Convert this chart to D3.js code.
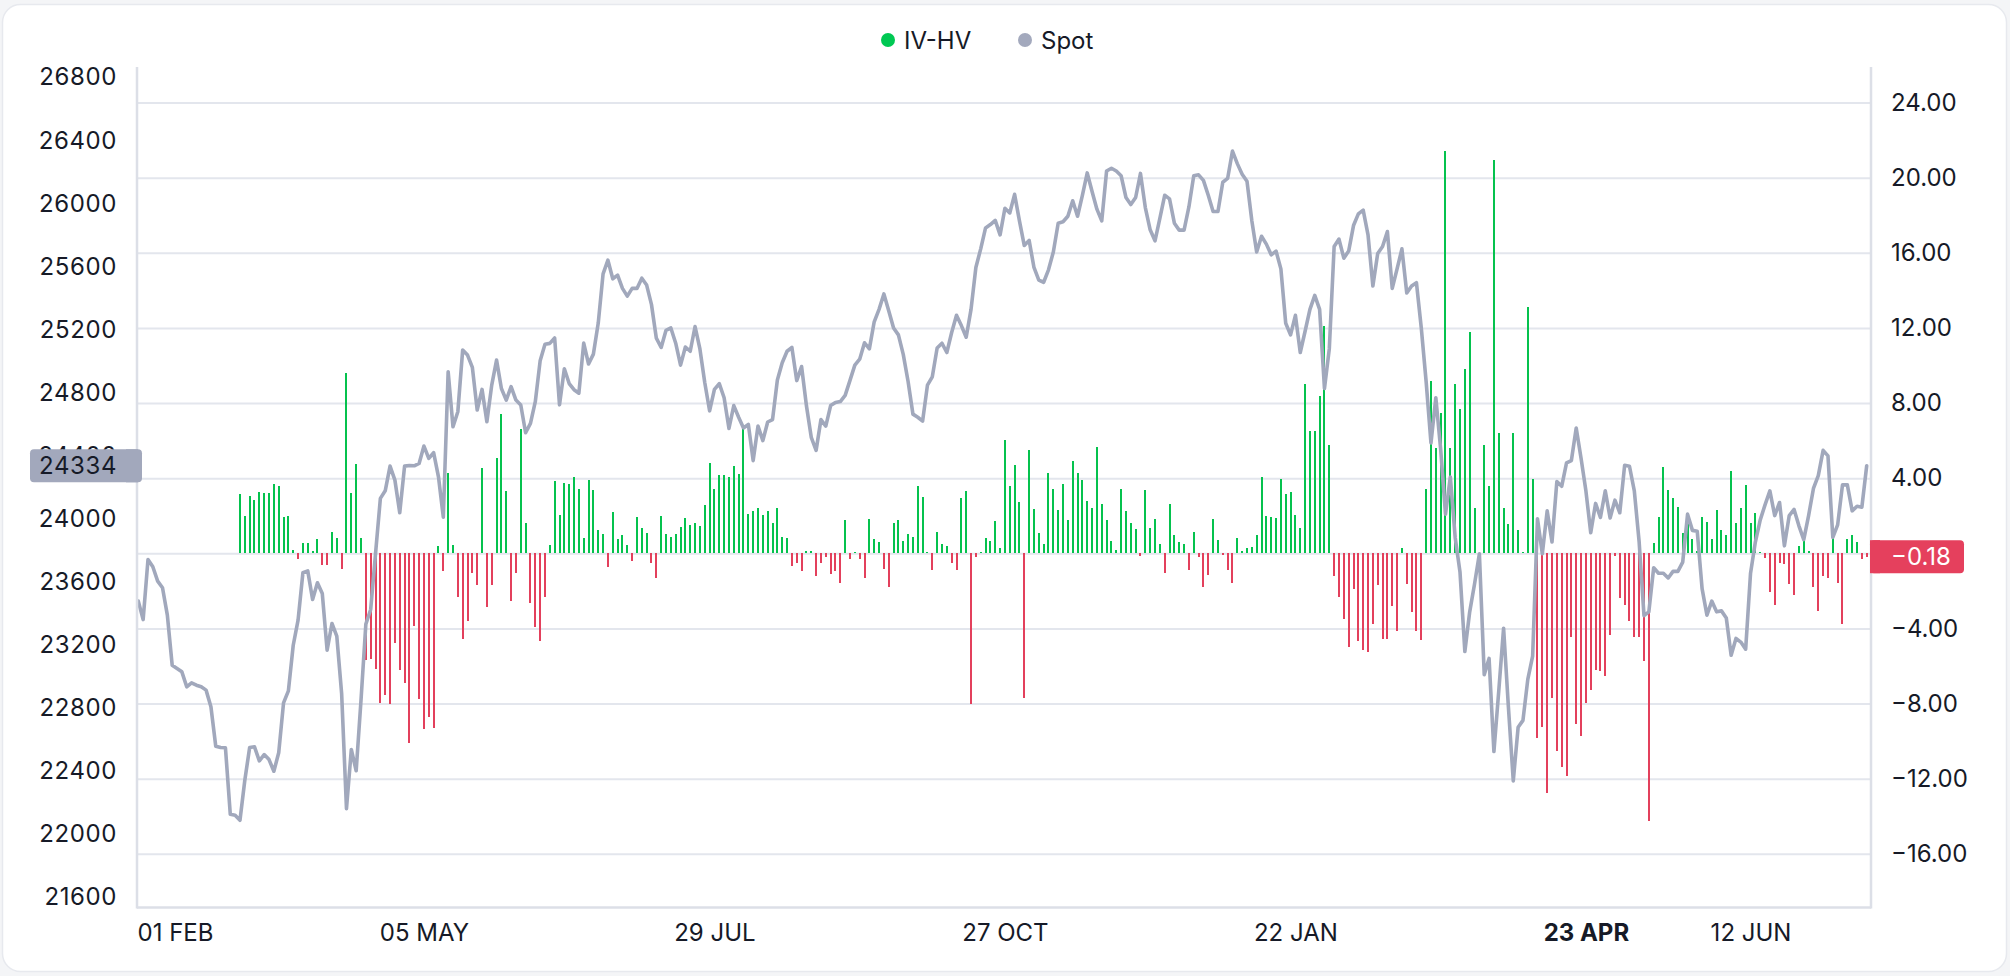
<!DOCTYPE html>
<html><head><meta charset="utf-8">
<script src="https://cdn.jsdelivr.net/npm/d3@7"></script>
<style>
html,body{margin:0;padding:0;background:#f4f5f7;overflow:hidden;}
svg{display:block;}
text{font-family:Inter,"Noto Sans",sans-serif;}
</style></head><body>
<svg id="chart" width="2010" height="976"></svg>
<script>
// ---- data ----
const seriesNames = ["IV-HV", "Spot"];
const tickIdx = [0, 59, 119, 179, 239, 299, 333];
const tickLabels = ["01 FEB", "05 MAY", "29 JUL", "27 OCT", "22 JAN", "23 APR", "12 JUN"];
const boldTicks = ["23 APR"];
const leftTicks = [21600, 22000, 22400, 22800, 23200, 23600, 24000, 24400, 24800, 25200, 25600, 26000, 26400, 26800];
const rightTicks = [-16, -12, -8, -4, 0, 4, 8, 12, 16, 20, 24];

const spot = [
23475,23358,23739,23693,23602,23560,23386,23068,23047,23026,
22931,22956,22941,22931,22910,22804,22554,22546,22544,22122,
22116,22084,22338,22546,22550,22461,22501,22469,22395,22512,
22829,22905,23195,23354,23655,23667,23485,23591,23524,23164,
23333,23253,22888,22158,22533,22398,22846,23329,23422,23777,
24127,24175,24332,24243,24036,24332,24336,24334,24349,24459,
24381,24417,24264,24008,24931,24582,24677,25069,25037,24959,
24688,24819,24614,24846,25005,24825,24751,24836,24751,24720,
24544,24603,24741,25000,25105,25111,25145,24721,24950,24856,
24817,24795,25113,24980,25043,25240,25552,25639,25521,25544,
25460,25411,25460,25460,25525,25481,25357,25144,25085,25194,
25209,25112,24973,25088,25061,25218,25076,24863,24683,24819,
24855,24766,24571,24716,24642,24574,24597,24367,24586,24494,
24612,24627,24878,24988,25061,25085,24875,24964,24716,24515,
24432,24627,24586,24716,24736,24742,24781,24876,24973,25011,
25115,25076,25248,25327,25425,25318,25209,25165,25041,24869,
24662,24642,24618,24846,24899,25082,25112,25053,25180,25289,
25224,25150,25327,25593,25711,25844,25865,25892,25800,25969,
25939,26057,25889,25732,25765,25593,25513,25499,25578,25691,
25874,25883,25918,26016,25918,26051,26193,26075,25963,25889,
26205,26223,26205,26175,26037,25992,26037,26190,25973,25832,
25762,25904,26051,26028,25874,25830,25830,25977,26175,26181,
26146,26051,25948,25948,26134,26158,26332,26252,26184,26140,
25889,25691,25791,25741,25673,25697,25584,25239,25165,25289,
25053,25188,25327,25416,25327,24825,25076,25726,25773,25652,
25697,25859,25933,25957,25800,25475,25682,25726,25821,25460,
25584,25711,25431,25475,25496,25209,24869,24479,24766,24440,
24027,24263,23879,23658,23155,23407,23584,23776,23008,23111,
22520,22904,23303,22801,22334,22674,22718,22978,23126,23998,
23776,24048,23850,24234,24204,24352,24367,24574,24382,24175,
23909,24095,24006,24175,24003,24116,24036,24337,24331,24175,
23850,23383,23407,23687,23652,23652,23622,23664,23664,23723,
24027,23924,23918,23554,23386,23475,23407,23413,23368,23132,
23238,23215,23170,23650,23850,23989,24086,24175,24018,24101,
23826,24018,24057,23953,23865,24018,24190,24272,24432,24397,
23879,23959,24213,24213,24048,24077,24071,24334
];

const ivhv = [
null,null,null,null,null,null,null,null,null,null,
null,null,null,null,null,null,null,null,null,null,
null,3.16,1.99,3.05,2.84,3.27,3.19,3.19,3.69,3.59,
1.92,1.99,0.18,-0.32,0.53,0.53,0.11,0.75,-0.60,-0.60,
1.14,0.82,-0.82,9.58,3.19,4.76,0.80,-5.68,-5.61,-6.18,
-7.99,-7.56,-8.04,-4.76,-6.21,-6.89,-10.08,-3.85,-7.77,-9.37,
-8.73,-9.32,0.39,-0.96,4.26,0.44,-2.31,-4.54,-3.62,-1.03,
-1.70,4.53,-2.84,-1.70,5.06,7.42,3.30,-2.52,-1.06,6.60,
1.60,-2.63,-3.90,-4.69,-2.34,0.45,3.85,2.04,3.74,3.68,
4.06,3.43,0.81,3.90,3.37,1.25,1.02,-0.71,2.19,0.75,
0.97,0.45,-0.39,1.94,1.35,1.07,-0.54,-1.31,1.98,1.02,
0.87,1.02,1.39,1.89,1.52,1.61,1.44,2.58,4.81,3.43,
4.17,4.17,4.07,4.64,4.22,6.62,2.09,2.26,2.41,2.04,
2.26,1.61,2.41,0.85,0.82,-0.66,-0.49,-0.96,0.13,0.13,
-1.23,-0.54,-0.19,-1.08,-0.96,-1.56,1.77,-0.30,0.08,-0.32,
-1.34,1.82,0.75,0.60,-0.86,-1.78,1.61,1.77,0.65,1.02,
0.87,3.57,3.00,0.08,-0.91,1.15,0.50,0.38,-0.54,-0.91,
2.95,3.33,-8.00,-0.22,0.05,0.82,0.65,1.71,0.28,6.03,
3.57,4.69,2.73,-7.73,5.48,2.36,1.10,0.48,4.27,3.43,
2.31,3.70,1.77,4.91,4.27,3.90,2.78,2.41,5.68,2.63,
1.77,0.65,0.18,3.43,2.26,1.61,1.30,-0.12,3.38,1.35,
1.82,0.50,-1.04,2.63,0.97,0.60,0.50,-0.91,1.15,-0.22,
-1.78,-1.14,1.82,0.70,-0.10,-0.91,-1.56,0.82,0.13,0.28,
0.33,0.97,4.07,1.98,1.94,1.89,3.95,3.16,3.25,2.04,
1.35,9.00,6.50,6.50,8.38,12.12,5.75,-1.21,-2.30,-3.49,
-5.00,-1.88,-4.68,-5.15,-5.25,-3.76,-1.68,-4.58,-4.58,-2.82,
-4.13,0.28,-1.63,-3.14,-4.13,-4.63,3.43,9.15,5.63,7.49,
21.40,5.63,9.00,7.68,9.81,11.77,2.41,0.03,5.75,3.57,
20.94,6.40,2.41,1.57,6.40,1.22,0.08,13.11,3.95,-9.81,
-9.26,-12.78,-7.70,-10.55,-11.37,-11.86,-4.48,-9.09,-9.71,-7.95,
-7.26,-6.21,-6.29,-6.51,-4.33,-0.15,-2.40,-2.77,-3.59,-4.43,
-4.48,-5.72,-14.27,0.55,1.94,4.59,3.38,2.95,2.46,1.09,
1.70,0.77,0.10,1.94,1.67,0.77,2.31,1.25,1.00,4.39,
1.62,2.41,3.63,1.62,2.16,0.08,-0.27,-2.08,-2.77,-0.54,
-0.59,-1.63,-2.20,0.38,0.65,0.13,-1.78,-3.05,-1.21,-1.33,
0.80,-1.56,-3.79,0.75,0.97,0.60,-0.32,-0.18
];

// ---- styles ----
const GREEN = "#05c24e", RED = "#e3405c", LINE = "#a1a8bc", GRID = "#e3e6ed", AXISC = "#dcdfe7", TXT = "#161a27";
const FS = 24;

const svg = d3.select("#chart");
svg.append("rect").attr("x", 2.5).attr("y", 4.5).attr("width", 2004).attr("height", 967)
  .attr("rx", 18).attr("fill", "#fff").attr("stroke", "#e7e9ee").attr("stroke-width", 1.5);

const plotL = 137, plotR = 1871, plotT = 67, plotB = 907.5;
const x = d3.scaleLinear().domain([0, spot.length - 1]).range([138.3, 1866.7]);
const yR = d3.scaleLinear().domain([-16, 24]).range([853.8, 102.6]);
const yL = d3.scaleLinear().domain([21600, 26800]).range([896.5, 77.3]);

// grid (from right scale)
const grid = svg.append("g").attr("transform", `translate(${plotR},0)`)
  .call(d3.axisLeft(yR).tickValues(rightTicks).tickSize(plotR - plotL).tickFormat(""));
grid.select(".domain").remove();
grid.selectAll("line").attr("stroke", GRID).attr("stroke-width", 2);

// bars
const bw = 2;
svg.append("g").selectAll("rect")
  .data(ivhv.map((v, i) => ({ v, i })).filter(d => d.v !== null))
  .join("rect")
  .attr("x", d => Math.round(x(d.i) - bw / 2))
  .attr("width", bw)
  .attr("y", d => Math.min(yR(d.v), yR(0)))
  .attr("height", d => Math.max(0.8, Math.abs(yR(d.v) - yR(0))))
  .attr("fill", d => d.v >= 0 ? GREEN : RED)
  .attr("shape-rendering", "crispEdges");

// spot line
const line = d3.line().x((d, i) => x(i)).y(d => yL(d));
svg.append("path").datum(spot).attr("d", line)
  .attr("fill", "none").attr("stroke", LINE).attr("stroke-width", 3.6)
  .attr("stroke-linejoin", "round").attr("stroke-linecap", "round");

// axis borders
svg.append("line").attr("x1", plotL).attr("x2", plotL).attr("y1", plotT).attr("y2", plotB + 1).attr("stroke", AXISC).attr("stroke-width", 2.5);
svg.append("line").attr("x1", plotR).attr("x2", plotR).attr("y1", plotT).attr("y2", plotB + 1).attr("stroke", AXISC).attr("stroke-width", 2.5);
svg.append("line").attr("x1", plotL).attr("x2", plotR).attr("y1", plotB).attr("y2", plotB).attr("stroke", AXISC).attr("stroke-width", 2.5);

// left axis
const fmtL = d3.format("d");
const gl = svg.append("g").attr("transform", `translate(${plotL},0)`)
  .call(d3.axisLeft(yL).tickValues(leftTicks).tickSize(0).tickPadding(20).tickFormat(fmtL));
gl.select(".domain").remove();
gl.selectAll("text").attr("font-size", FS).attr("fill", TXT).attr("font-family", "Inter").attr("letter-spacing", 0.6);

// right axis (the 0 level is covered by the last-value badge, as in the source)
const fmtR = v => (v < 0 ? "\u2212" : "") + Math.abs(v).toFixed(2);
const gr = svg.append("g").attr("transform", `translate(${plotR},0)`)
  .call(d3.axisRight(yR).tickValues(rightTicks.filter(v => v !== 0)).tickSize(0).tickPadding(20).tickFormat(fmtR));
gr.select(".domain").remove();
gr.selectAll("text").attr("font-size", FS).attr("fill", TXT).attr("font-family", "Inter");

// bottom axis
const gb = svg.append("g").attr("transform", `translate(0,${plotB})`)
  .call(d3.axisBottom(x).tickValues(tickIdx).tickSize(0).tickPadding(16).tickFormat((d, i) => tickLabels[i]));
gb.select(".domain").remove();
gb.selectAll("text").attr("font-size", FS).attr("fill", TXT).attr("font-family", "Inter")
  .attr("font-weight", (d, i) => boldTicks.includes(tickLabels[i]) ? 700 : 400)
  .each(function (d, i) {
    if (i === 0) d3.select(this).attr("text-anchor", "start").attr("x", plotL - x(d));
  });

// last-value labels
const lastSpot = spot[spot.length - 1];
const lastIv = ivhv[ivhv.length - 1];
const ls = yL(lastSpot);
svg.append("rect").attr("x", 30).attr("y", ls - 16.5).attr("width", 112).attr("height", 33).attr("rx", 4).attr("fill", "#a2a8bc");
svg.append("rect").attr("x", 126).attr("y", ls - 16.5).attr("width", 12).attr("height", 33).attr("fill", "#a2a8bc");
svg.append("text").attr("x", 117).attr("y", ls).attr("dy", "0.35em").attr("text-anchor", "end")
  .attr("font-size", FS).attr("fill", TXT).attr("letter-spacing", 0.6).text(fmtL(lastSpot));

const li = yR(lastIv);
svg.append("rect").attr("x", 1870).attr("y", li - 16.5).attr("width", 94).attr("height", 33).attr("rx", 4).attr("fill", "#e5405d");
svg.append("rect").attr("x", 1870).attr("y", li - 16.5).attr("width", 10).attr("height", 33).attr("fill", "#e5405d");
svg.append("text").attr("x", 1891).attr("y", li).attr("dy", "0.35em")
  .attr("font-size", FS).attr("fill", "#fff").text(fmtR(lastIv));

// legend
const leg = svg.append("g");
const legItems = [
  { name: seriesNames[0], color: "#00c853", cx: 888, tx: 904 },
  { name: seriesNames[1], color: "#a3a9bd", cx: 1025, tx: 1041 }
];
legItems.forEach(it => {
  leg.append("circle").attr("cx", it.cx).attr("cy", 40).attr("r", 7).attr("fill", it.color);
  leg.append("text").attr("x", it.tx).attr("y", 40).attr("dy", "0.36em").attr("font-size", FS)
    .attr("fill", TXT).text(it.name);
});
</script>
</body></html>
